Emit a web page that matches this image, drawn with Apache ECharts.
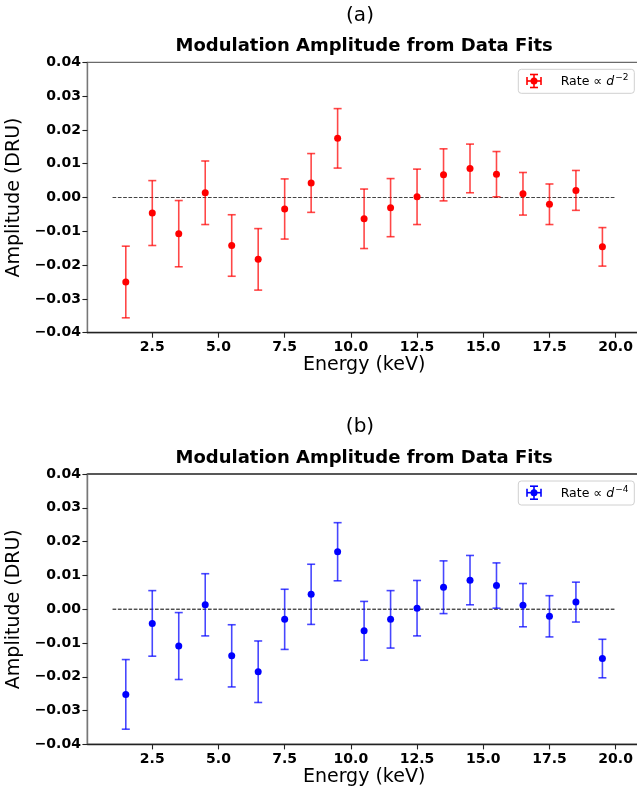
<!DOCTYPE html>
<html>
<head>
<meta charset="utf-8">
<script src="https://cdn.jsdelivr.net/npm/echarts@6/dist/echarts.min.js"></script>
<style>
html,body{margin:0;padding:0;background:#fff;}
#chart{width:637px;height:791px;}
</style>
</head>
<body>
<div id="chart"></div>
<script>
// ---- data ----
const energies = [1.5, 2.5, 3.5, 4.5, 5.5, 6.5, 7.5, 8.5, 9.5, 10.5, 11.5, 12.5, 13.5, 14.5, 15.5, 16.5, 17.5, 18.5, 19.5];
const ampA = [-0.0250, -0.0046, -0.0107, 0.0014, -0.0142, -0.0183, -0.0034, 0.0043, 0.0175, -0.0063, -0.0030, 0.0002, 0.0067, 0.0086, 0.0069, 0.0011, -0.0020, 0.0021, -0.0146];
const errA = [0.0106, 0.0096, 0.0098, 0.0094, 0.0091, 0.0091, 0.0089, 0.0087, 0.0088, 0.0088, 0.0086, 0.0082, 0.0077, 0.0072, 0.0067, 0.0063, 0.0060, 0.0059, 0.0057];
const ampB = [-0.0252, -0.0042, -0.0109, 0.0013, -0.0138, -0.0185, -0.0030, 0.0044, 0.0170, -0.0064, -0.0030, 0.0003, 0.0065, 0.0086, 0.0070, 0.0012, -0.0021, 0.0021, -0.0146];
const errB = [0.0103, 0.0097, 0.0099, 0.0092, 0.0092, 0.0091, 0.0089, 0.0089, 0.0086, 0.0087, 0.0085, 0.0082, 0.0078, 0.0073, 0.0067, 0.0064, 0.0061, 0.0059, 0.0057];
const refLine = [[1, 0], [20, 0]];
const xTicks = [2.5, 5.0, 7.5, 10.0, 12.5, 15.0, 17.5, 20.0];
const yRange = [-0.04, 0.04];
const yStep = 0.01;
const xRange = [0.05, 20.95];

// ---- layout ----
const FONT = 'DejaVu Sans';
const panels = [
  {top: 62.3, label: '(a)', color: 'red', bar: 'rgba(255,0,0,0.72)', amp: ampA, err: errA, exp: '−2', spine: '#6a6a6a', dash: '#444'},
  {top: 474, label: '(b)', color: 'blue', bar: 'rgba(0,0,255,0.72)', amp: ampB, err: errB, exp: '−4', spine: '#222', dash: '#000'}
];
const GL = 87.4, GW = 553.4, GH = 270.4;

const chart = echarts.init(document.getElementById('chart'), null, {renderer: 'canvas'});

const grids = [], xAxes = [], yAxes = [], series = [], graphics = [];

function yFmt(v) {
  const s = Math.abs(v).toFixed(2);
  return (v < -1e-9 ? '−' : '') + s;
}

panels.forEach((p, i) => {
  grids.push({left: GL, top: p.top, width: GW, height: GH, show: true, borderColor: p.spine, borderWidth: 1.3,
    backgroundColor: 'transparent', containLabel: false, outerBoundsMode: 'none'});
  xAxes.push({
    type: 'value', gridIndex: i, min: xRange[0], max: xRange[1],
    name: 'Energy (keV)', nameLocation: 'middle', nameGap: 20,
    nameTextStyle: {fontFamily: FONT, fontSize: 19, color: '#000'},
    axisLine: {show: true, onZero: false, lineStyle: {color: '#222', width: 1.3}},
    axisTick: {show: true, length: 5, customValues: xTicks, lineStyle: {color: '#222', width: 1.1}},
    axisLabel: {customValues: xTicks, margin: 8, fontFamily: FONT, fontWeight: 'bold', fontSize: 14, color: '#000', formatter: v => v.toFixed(1)},
    splitLine: {show: false}
  });
  yAxes.push({
    type: 'value', gridIndex: i, min: yRange[0], max: yRange[1], interval: yStep,
    name: 'Amplitude (DRU)', nameLocation: 'middle', nameGap: 58, nameRotate: 90,
    nameTextStyle: {fontFamily: FONT, fontSize: 19, color: '#000'},
    axisLine: {show: true, onZero: false, lineStyle: {color: '#777', width: 1.3}},
    axisTick: {show: true, length: 5, lineStyle: {color: '#222', width: 1.1}},
    axisLabel: {margin: 6.5, fontFamily: FONT, fontWeight: 'bold', fontSize: 14, color: '#000', formatter: yFmt},
    splitLine: {show: false}
  });
  series.push({
    type: 'line', xAxisIndex: i, yAxisIndex: i, data: refLine, symbol: 'none', silent: true,
    lineStyle: {color: p.dash, width: 1, type: [3.7, 1.6]}, z: 1, animation: false
  });
  series.push({
    type: 'custom', xAxisIndex: i, yAxisIndex: i,
    data: energies.map((e, k) => [e, p.amp[k], p.err[k]]),
    renderItem: function (params, api) {
      const x = api.value(0), y = api.value(1), e = api.value(2);
      const top = api.coord([x, y + e]);
      const bot = api.coord([x, y - e]);
      const st = {stroke: p.bar, lineWidth: 1.6};
      return {type: 'group', children: [
        {type: 'line', shape: {x1: top[0], y1: top[1], x2: bot[0], y2: bot[1]}, style: st},
        {type: 'line', shape: {x1: top[0] - 4, y1: top[1], x2: top[0] + 4, y2: top[1]}, style: st},
        {type: 'line', shape: {x1: bot[0] - 4, y1: bot[1], x2: bot[0] + 4, y2: bot[1]}, style: st}
      ]};
    },
    z: 2, animation: false
  });
  series.push({
    type: 'scatter', xAxisIndex: i, yAxisIndex: i,
    data: energies.map((e, k) => [e, p.amp[k]]),
    symbol: 'circle', symbolSize: 7, itemStyle: {color: p.color, opacity: 1}, z: 3, animation: false
  });

  // panel label and title
  graphics.push({type: 'text', style: {text: p.label, fontFamily: FONT, fontSize: 20, fill: '#000', x: 360, y: p.top - 47, align: 'center', verticalAlign: 'middle'}});
  graphics.push({type: 'text', style: {text: 'Modulation Amplitude from Data Fits', fontFamily: FONT, fontWeight: 'bold', fontSize: 18, fill: '#000', x: GL + GW / 2, y: p.top - 15.5, align: 'center', verticalAlign: 'middle'}});

  // legend
  const ly = p.top + 18.7, lx = 534;
  const ls = {stroke: p.color, lineWidth: 1.6};
  graphics.push({type: 'group', z: 10, children: [
    {type: 'rect', shape: {x: 518.3, y: p.top + 7, width: 116, height: 24, r: 3}, style: {fill: 'rgba(255,255,255,0.85)', stroke: '#d0d0d0', lineWidth: 1}},
    {type: 'line', shape: {x1: lx - 7, y1: ly, x2: lx + 7, y2: ly}, style: ls},
    {type: 'line', shape: {x1: lx - 7, y1: ly - 4, x2: lx - 7, y2: ly + 4}, style: ls},
    {type: 'line', shape: {x1: lx + 7, y1: ly - 4, x2: lx + 7, y2: ly + 4}, style: ls},
    {type: 'line', shape: {x1: lx, y1: ly - 6.5, x2: lx, y2: ly + 6.5}, style: ls},
    {type: 'line', shape: {x1: lx - 4, y1: ly - 6.5, x2: lx + 4, y2: ly - 6.5}, style: ls},
    {type: 'line', shape: {x1: lx - 4, y1: ly + 6.5, x2: lx + 4, y2: ly + 6.5}, style: ls},
    {type: 'circle', shape: {cx: lx, cy: ly, r: 3.5}, style: {fill: p.color}},
    {type: 'text', style: {
      x: 560.7, y: ly + 1, verticalAlign: 'middle', align: 'left',
      text: 'Rate ∝ {i|d}{s|' + p.exp + '}',
      fontFamily: FONT, fontSize: 12.5, fill: '#000',
      rich: {
        i: {fontFamily: FONT, fontStyle: 'italic', fontSize: 12.5, fill: '#000'},
        s: {fontFamily: FONT, fontSize: 9, fill: '#000', padding: [0, 0, 8, 1]}
      }
    }}
  ]});
});

chart.setOption({
  animation: false,
  backgroundColor: '#fff',
  grid: grids,
  xAxis: xAxes,
  yAxis: yAxes,
  series: series,
  graphic: graphics
});
</script>
</body>
</html>
